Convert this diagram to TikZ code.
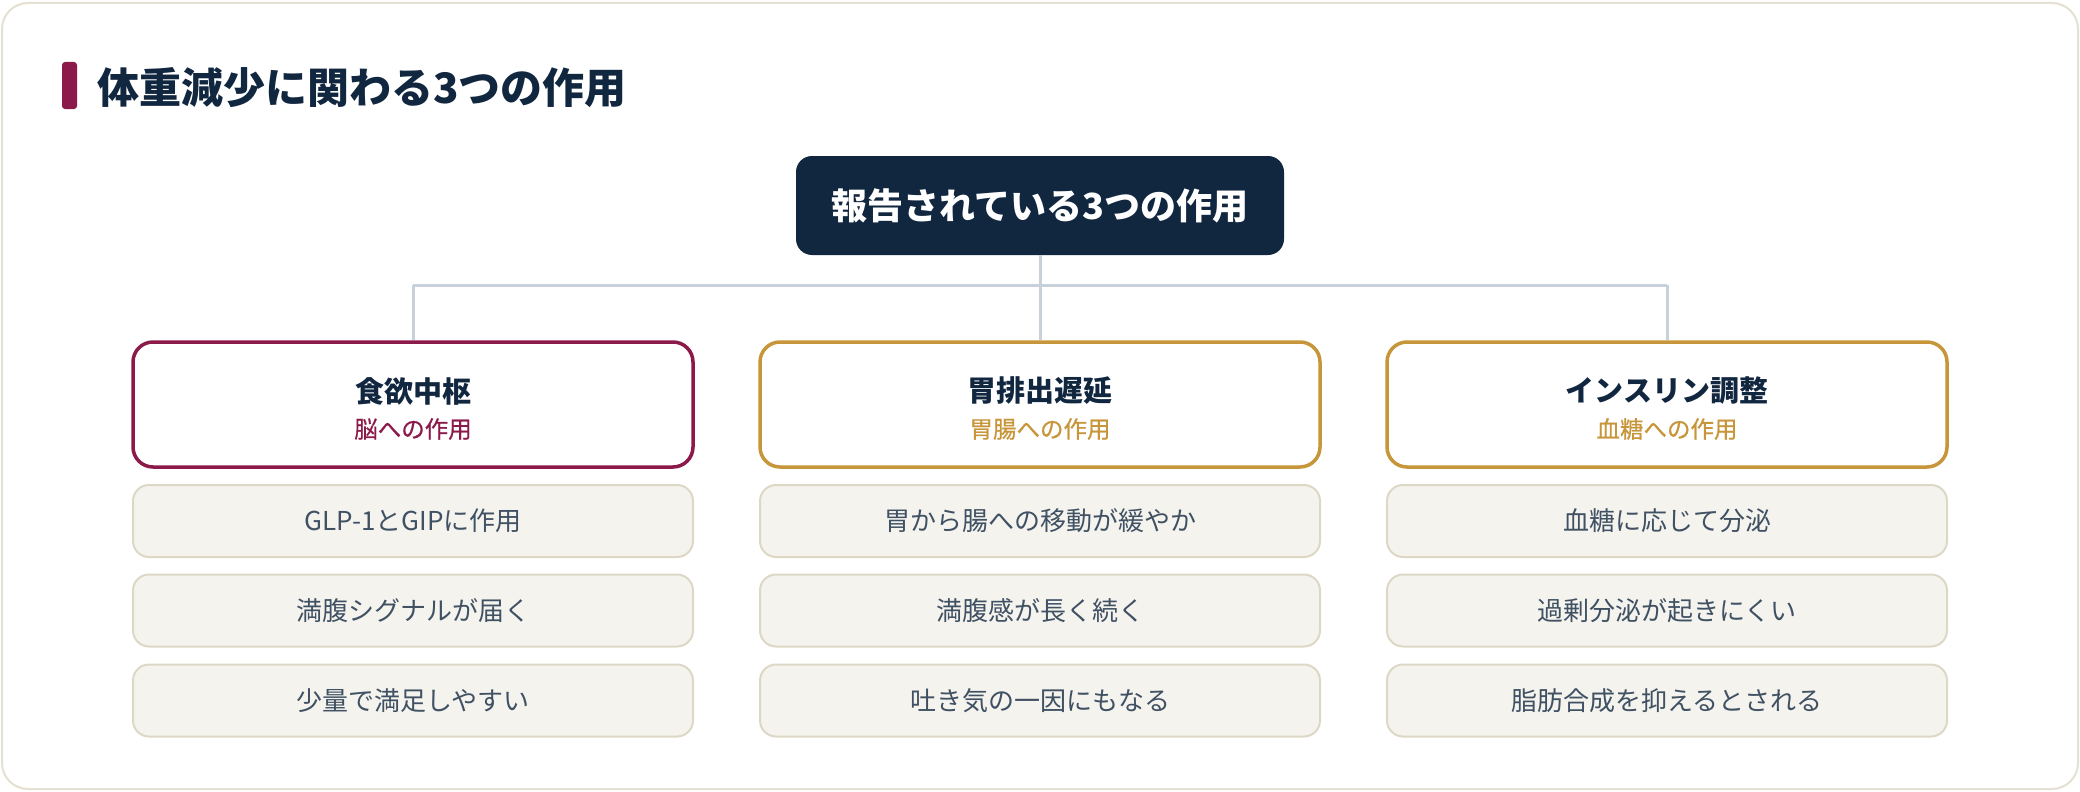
\documentclass[tikz,border=0pt]{standalone}
\usepackage{fontspec}
\setmainfont{Noto Sans CJK JP}
\newfontfamily\subfont[FakeBold=0.6]{Noto Sans CJK JP}
\definecolor{navy}{HTML}{11263F}
\definecolor{maroon}{HTML}{8B1A4A}
\definecolor{gold}{HTML}{C8963A}
\definecolor{frameline}{HTML}{E4E1D2}
\definecolor{itemfill}{HTML}{F5F3EE}
\definecolor{itemline}{HTML}{DDD8C6}
\definecolor{itemtext}{HTML}{3F5163}
\definecolor{conn}{HTML}{C8D0DA}
\tikzset{
  catbox/.style={draw=#1, line width=3.5pt, rounded corners=20pt, fill=white,
    minimum width=560pt, minimum height=125pt, inner sep=0pt},
  itembox/.style={draw=itemline, line width=2pt, rounded corners=16pt, fill=itemfill,
    minimum width=560pt, minimum height=72pt, inner sep=0pt,
    font=\fontsize{26}{31}\selectfont, text=itemtext},
  cattitle/.style={font=\fontsize{29}{34}\selectfont\bfseries, text=navy, inner sep=0pt},
  catsub/.style={font=\subfont\fontsize{23.5}{28}\selectfont, text=#1, inner sep=0pt},
  connline/.style={draw=conn, line width=3pt},
}
\begin{document}
\begin{tikzpicture}[x=1pt, y=-1pt]
\useasboundingbox (0,0) rectangle (2080,792);
\draw[frameline, line width=2pt, fill=white, rounded corners=26pt] (2,3) rectangle (2078,789);
% title
\fill[maroon, rounded corners=3pt] (62,62) rectangle (77,109);
\node[anchor=west, inner sep=0pt, text=navy, font=\fontsize{42}{50}\selectfont\bfseries] (title) at (97,88) {体重減少に関わる3つの作用};
% root
\node[fill=navy, rounded corners=16pt, minimum width=488pt, minimum height=99pt, inner sep=0pt,
  text=white, font=\fontsize{36}{42}\selectfont\bfseries] (root) at (1040,205.5) {報告されている3つの作用};
% categories
\node[catbox=maroon] (c1) at (413,404.5) {};
\node[catbox=gold] (c2) at (1040,404.5) {};
\node[catbox=gold] (c3) at (1667,404.5) {};
\node[cattitle] (c1t) at (413,391) {食欲中枢};
\node[catsub=maroon] (c1s) at (413,429) {脳への作用};
\node[cattitle] (c2t) at (1040,391) {胃排出遅延};
\node[catsub=gold] (c2s) at (1040,429) {胃腸への作用};
\node[cattitle] (c3t) at (1667,391) {インスリン調整};
\node[catsub=gold] (c3s) at (1667,429) {血糖への作用};
% connectors
\coordinate (hub) at (1040,285);
\coordinate (hl) at (413,285);
\coordinate (hr) at (1667,285);
\draw[connline] (root.south) -- (hub);
\draw[connline] (hl) -- (hr);
\draw[connline] (hl) -- (c1.north);
\draw[connline] (hub) -- (c2.north);
\draw[connline] (hr) -- (c3.north);
% items
\node[itembox] (a1) at (413,521) {GLP-1とGIPに作用};
\node[itembox] (a2) at (413,610.5) {満腹シグナルが届く};
\node[itembox] (a3) at (413,700.5) {少量で満足しやすい};
\node[itembox] (b1) at (1040,521) {胃から腸への移動が緩やか};
\node[itembox] (b2) at (1040,610.5) {満腹感が長く続く};
\node[itembox] (b3) at (1040,700.5) {吐き気の一因にもなる};
\node[itembox] (d1) at (1667,521) {血糖に応じて分泌};
\node[itembox] (d2) at (1667,610.5) {過剰分泌が起きにくい};
\node[itembox] (d3) at (1667,700.5) {脂肪合成を抑えるとされる};
\end{tikzpicture}
\end{document}
